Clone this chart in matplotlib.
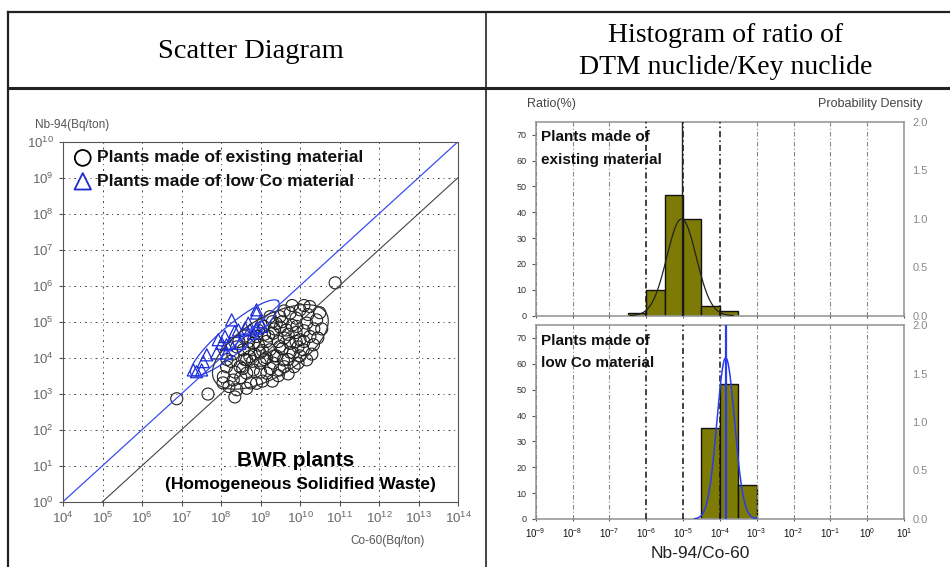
import numpy as np
import matplotlib.pyplot as plt
from matplotlib.lines import Line2D
from matplotlib.ticker import FixedLocator, NullLocator, FormatStrFormatter

plt.rcParams['font.family'] = ['Liberation Sans', 'DejaVu Sans']

# scatter data, log10 of Bq/ton
exist_co = [10.25, 10.0, 9.75, 9.49, 10.42, 10.17, 9.92, 9.66, 9.32, 10.25, 10.0, 9.75,
            9.49, 9.24, 8.99, 10.34, 10.08, 9.83, 9.58, 9.32, 9.49, 9.16, 8.82, 8.65,
            8.90, 9.07, 9.24, 10.17, 8.56, 8.73, 8.48, 8.65, 8.31, 8.14, 8.06, 8.40,
            8.90, 8.99, 8.82, 6.88, 7.67, 8.35, 10.89, 9.40, 9.60, 9.90, 9.15, 8.95,
            9.40, 9.70, 9.95, 10.10, 9.55, 9.10, 8.80, 9.00, 9.30, 9.60, 8.60, 8.45,
            8.30, 8.15, 9.80, 10.50, 10.55, 8.20, 8.50, 9.85,
            9.20, 9.45, 9.70, 9.35, 9.60, 9.90, 10.20, 10.35, 10.00, 9.75, 9.55, 9.05,
            8.85, 8.70, 9.25, 9.45, 9.05, 8.75, 8.55, 8.35, 8.25, 8.60, 9.15, 9.35,
            9.90, 10.10, 10.45, 9.70, 9.95, 10.30, 8.95, 9.10, 8.70, 8.40, 8.05, 8.65,
            9.50, 9.80, 10.10, 9.30]
exist_nb = [5.42, 5.33, 5.24, 5.14, 5.05, 4.96, 4.87, 4.77, 4.68, 4.59, 4.50, 4.40,
            4.31, 4.22, 4.13, 4.36, 4.22, 4.13, 3.94, 3.85, 3.66, 3.57, 3.66, 3.94,
            4.59, 4.87, 5.14, 3.94, 4.22, 4.03, 3.75, 3.57, 3.38, 3.75, 3.47, 3.11,
            3.29, 3.85, 4.40, 2.86, 2.99, 2.91, 6.08, 4.95, 4.55, 4.70, 4.45, 4.35,
            4.05, 3.95, 4.30, 4.75, 5.00, 3.95, 3.90, 3.60, 3.35, 3.75, 4.60, 4.45,
            4.10, 3.95, 5.45, 5.25, 4.80, 3.20, 3.45, 3.75,
            4.60, 4.45, 4.65, 4.80, 5.30, 5.10, 5.20, 4.80, 4.05, 4.15, 4.25, 4.20,
            4.10, 4.25, 3.70, 3.50, 3.35, 3.30, 3.70, 3.60, 3.90, 3.95, 4.00, 4.05,
            4.45, 4.45, 4.55, 3.55, 3.85, 4.10, 4.75, 4.65, 4.45, 4.30, 3.30, 3.15,
            4.85, 4.90, 5.45, 5.00]
lowco_co = [8.90, 8.27, 8.69, 8.99, 8.44, 8.73, 8.90, 8.61, 8.10, 8.35, 8.02, 8.23,
            8.14, 7.89, 7.64, 7.55, 7.30, 7.51, 7.38, 9.03, 8.82, 8.48, 8.14, 7.93, 8.90]
lowco_nb = [5.24, 5.05, 4.96, 5.00, 4.77, 4.77, 4.82, 4.82, 4.59, 4.73, 4.40, 4.40,
            4.13, 4.13, 4.08, 3.89, 3.66, 3.66, 3.61, 4.87, 4.68, 4.40, 4.36, 4.50, 5.33]

ratio_lowco = 1e-4
ratio_exist = 1e-5

# ellipses: centre x, centre y, semi axes, angle (in decades)
ell_exist = (9.25, 4.3, 1.7, 0.8, 35)
ell_lowco = (8.35, 4.55, 1.5, 0.36, 43)

# histograms, bin edges in log10(Nb-94/Co-60), heights in %
edges_top = [-6.5, -6.0, -5.5, -5.0, -4.5, -4.0, -3.5]
pct_top = [1.2, 10, 46.5, 37.5, 3.8, 1.9]
edges_bot = [-4.5, -4.0, -3.5, -3.0]
pct_bot = [35, 52, 13]
mean_top, sd_top = -5.04, 0.40
mean_bot, sd_bot = -3.84, 0.24

hist_xticks = list(range(-9, 2))

W, H = 950, 567
fig = plt.figure(figsize=(W / 100, H / 100), dpi=100)


def fx(x):
    return x / W


def fy(y):
    return 1 - y / H


# table frame
for (x0, y0, x1, y1, lw) in [(8, 12, 950, 12, 1.6), (8, 88, 950, 88, 2.2),
                             (8, 12, 8, 567, 1.6), (486, 12, 486, 567, 1.2)]:
    fig.add_artist(Line2D([fx(x0), fx(x1)], [fy(y0), fy(y1)], color='#222',
                          lw=lw, transform=fig.transFigure))

serif = ['Liberation Serif', 'DejaVu Serif']
fig.text(fx(251), fy(52), 'Scatter Diagram', family=serif, fontsize=20.5,
         ha='center', va='center')
fig.text(fx(726), fy(35), 'Histogram of ratio of', family=serif, fontsize=20,
         ha='center', va='center')
fig.text(fx(726), fy(67), 'DTM nuclide/Key nuclide', family=serif, fontsize=20,
         ha='center', va='center')

# ---- scatter diagram ----
ax = fig.add_axes([fx(63), fy(501.7), fx(458 - 63), (501.7 - 141.7) / H])
ax.set_xscale('log')
ax.set_yscale('log')
ax.set_xlim(1e4, 1e14)
ax.set_ylim(1e0, 1e10)
ax.xaxis.set_major_locator(FixedLocator([10.0 ** k for k in range(4, 15)]))
ax.yaxis.set_major_locator(FixedLocator([10.0 ** k for k in range(0, 11)]))
ax.xaxis.set_minor_locator(NullLocator())
ax.yaxis.set_minor_locator(NullLocator())
ax.tick_params(labelsize=9.5, labelcolor='#666', color='#555', length=3)
ax.grid(True, color='#444', lw=0.7, ls=(0, (2, 4, 1, 4)))
for s in ax.spines.values():
    s.set_color('#555')

xr = np.array([1e4, 1e14])
ax.plot(xr, xr * ratio_lowco, color='#3a4cf0', lw=0.9)
ax.plot(xr, xr * ratio_exist, color='#444', lw=0.8)

for (cx, cy, a, b, ang), col in [(ell_exist, '#333'), (ell_lowco, '#2b3fe8')]:
    t = np.linspace(0, 2 * np.pi, 200)
    th = np.radians(ang)
    ex = cx + a * np.cos(t) * np.cos(th) - b * np.sin(t) * np.sin(th)
    ey = cy + a * np.cos(t) * np.sin(th) + b * np.sin(t) * np.cos(th)
    ax.plot(10 ** ex, 10 ** ey, color=col, lw=0.9)

ax.scatter(10 ** np.array(exist_co), 10 ** np.array(exist_nb), s=75,
           facecolors='none', edgecolors='#222', lw=0.8)
ax.scatter(10 ** np.array(lowco_co), 10 ** np.array(lowco_nb), s=75, marker='^',
           facecolors='none', edgecolors='#1a2ad8', lw=0.9)

ax.scatter([10 ** 4.5], [10 ** 9.55], s=130, facecolors='none', edgecolors='k', lw=1.3)
ax.scatter([10 ** 4.5], [10 ** 8.9], s=140, marker='^', facecolors='none',
           edgecolors='#1a2ad8', lw=1.3)
ax.text(10 ** 4.85, 10 ** 9.55, 'Plants made of existing material', fontsize=12.5,
        fontweight='bold', va='center', color='#111')
ax.text(10 ** 4.85, 10 ** 8.9, 'Plants made of low Co material', fontsize=12.5,
        fontweight='bold', va='center', color='#111')
ax.text(10 ** 9.9, 10 ** 1.15, 'BWR plants', fontsize=15, fontweight='bold',
        ha='center', va='center')
ax.text(10 ** 10.0, 10 ** 0.48, '(Homogeneous Solidified Waste)', fontsize=12.5,
        fontweight='bold', ha='center', va='center')

fig.text(fx(35), fy(125), 'Nb-94(Bq/ton)', fontsize=8.5, color='#555', va='center')
fig.text(fx(425), fy(541), 'Co-60(Bq/ton)', fontsize=8.5, color='#555',
         ha='right', va='center')

# ---- histograms ----
fig.text(fx(527), fy(104), 'Ratio(%)', fontsize=9, color='#444', va='center')
fig.text(fx(922), fy(104), 'Probability Density', fontsize=9, color='#444',
         ha='right', va='center')
fig.text(fx(700), fy(553), 'Nb-94/Co-60', fontsize=12.5, color='#222',
         ha='center', va='center')

panels = [
    (315.7, edges_top, pct_top, mean_top, sd_top, '#222', 'Plants made of\nexisting material'),
    (519.0, edges_bot, pct_bot, mean_bot, sd_bot, '#2a3cf0', 'Plants made of\nlow Co material'),
]
for i, (ybot, edges, pct, mu, sd, ccol, label) in enumerate(panels):
    h = fig.add_axes([fx(535.7), fy(ybot), fx(904 - 535.7), 194 / H])
    h.set_xscale('log')
    h.set_xlim(1e-9, 1e1)
    h.set_ylim(0, 75)
    e = 10.0 ** np.array(edges)
    h.bar(e[:-1], pct, width=np.diff(e), align='edge', color='#7d7a05',
          edgecolor='#111', lw=1.0, zorder=2)
    for k in hist_xticks:
        dark = k in (-6, -5, -4)
        h.axvline(10.0 ** k, color='#111' if dark else '#888', lw=1.1 if dark else 0.8,
                  ls=(0, (4, 2, 1, 2)), zorder=3)
    h.xaxis.set_major_locator(FixedLocator([10.0 ** k for k in hist_xticks]))
    h.xaxis.set_minor_locator(NullLocator())
    h.set_yticks(range(0, 71, 10))
    h.tick_params(axis='y', labelsize=6.5, labelcolor='#333', color='#555', length=3)
    h.tick_params(axis='x', labelsize=7, labelcolor='#111', color='#555', length=3,
                  direction='inout')
    if i == 0:
        h.set_xticklabels([])
    for s in h.spines.values():
        s.set_color('#999')
        s.set_linewidth(1.2)
    h.text(0.015, 0.955, label, transform=h.transAxes, fontsize=11,
           fontweight='bold', va='top', linespacing=1.75, color='#111')

    tw = h.twinx()
    tw.set_ylim(0, 2)
    tw.set_yticks([0, 0.5, 1.0, 1.5, 2.0])
    tw.yaxis.set_major_formatter(FormatStrFormatter('%.1f'))
    tw.tick_params(labelsize=8, labelcolor='#888', length=0, pad=6)
    for s in tw.spines.values():
        s.set_visible(False)
    t = np.linspace(mu - 3.5 * sd, mu + 3.5 * sd, 200)
    pdf = np.exp(-0.5 * ((t - mu) / sd) ** 2) / (sd * np.sqrt(2 * np.pi))
    tw.plot(10 ** t, pdf, color=ccol, lw=0.9 if i == 0 else 1.1)
    tw.axvline(10 ** mu, color=ccol, lw=1.0 if i == 0 else 1.6)

fig.savefig('out.png', dpi=100)
